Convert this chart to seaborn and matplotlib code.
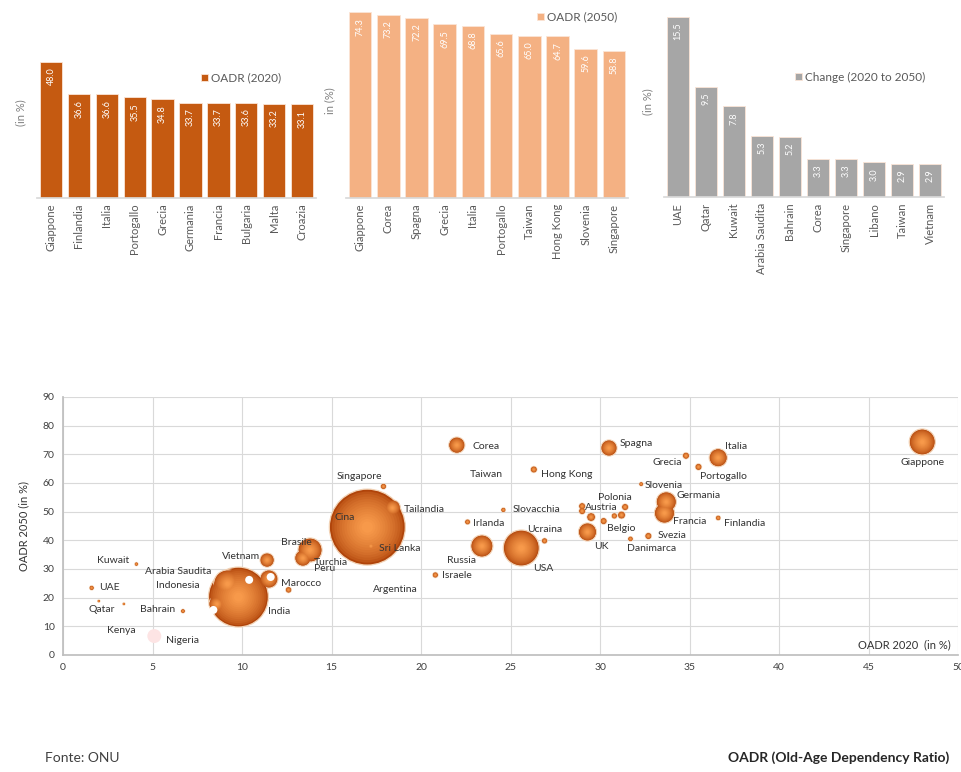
import seaborn as sns
from matplotlib import pyplot as plt
from matplotlib.colors import to_rgb
import pandas as pd
import numpy as np

# --- bar charts data ---
top2020_countries = ['Giappone', 'Finlandia', 'Italia', 'Portogallo', 'Grecia',
                     'Germania', 'Francia', 'Bulgaria', 'Malta', 'Croazia']
top2020_values = [48.0, 36.6, 36.6, 35.5, 34.8, 33.7, 33.7, 33.6, 33.2, 33.1]

top2050_countries = ['Giappone', 'Corea', 'Spagna', 'Grecia', 'Italia',
                     'Portogallo', 'Taiwan', 'Hong Kong', 'Slovenia', 'Singapore']
top2050_values = [74.3, 73.2, 72.2, 69.5, 68.8, 65.6, 65.0, 64.7, 59.6, 58.8]

change_countries = ['UAE', 'Qatar', 'Kuwait', 'Arabia Saudita', 'Bahrain',
                    'Corea', 'Singapore', 'Libano', 'Taiwan', 'Vietnam']
change_values = [15.5, 9.5, 7.8, 5.3, 5.2, 3.3, 3.3, 3.0, 2.9, 2.9]

# --- bubble chart data (OADR 2020, OADR 2050, bubble size) ---
bubble_names = ['Giappone', 'Italia', 'Grecia', 'Portogallo', 'Spagna', 'Corea',
                'Hong Kong', 'Singapore', 'Slovenia', 'Polonia', 'Austria', '',
                'Germania', 'Francia', 'Finlandia', 'Belgio', '', '', '',
                'Danimarca', 'Svezia', 'UK', 'Tailandia', 'Cina', 'Sri Lanka',
                'Slovacchia', 'Irlanda', 'Ucraina', 'Russia', 'USA', 'Israele',
                'Brasile', 'Turchia', 'Vietnam', 'Marocco', '', 'India',
                'Indonesia', '', 'Kuwait', 'UAE', 'Qatar', 'Arabia Saudita',
                'Bahrain', 'Nigeria', '', '', '']
oadr_2020 = [48.0, 36.6, 34.8, 35.5, 30.5, 22.0, 26.3, 17.9, 32.3, 31.4, 29.0, 29.0,
             33.7, 33.6, 36.6, 30.2, 29.5, 30.8, 31.2, 31.7, 32.7, 29.3, 18.4, 17.0,
             17.2, 24.6, 22.6, 26.9, 23.4, 25.6, 20.8, 13.8, 13.4, 11.4, 12.6, 11.5,
             9.8, 9.2, 8.6, 4.1, 1.6, 2.0, 3.4, 6.7, 5.1, 10.4, 11.6, 8.4]
oadr_2050 = [74.3, 68.8, 69.5, 65.6, 72.2, 73.2, 64.7, 58.8, 59.6, 51.6, 50.2, 51.9,
             53.4, 49.5, 47.8, 46.7, 48.1, 48.5, 48.8, 40.5, 41.5, 42.9, 51.3, 44.6,
             38.0, 50.6, 46.4, 39.8, 38.0, 37.3, 27.9, 36.6, 33.8, 33.1, 22.7, 26.5,
             20.2, 24.8, 17.8, 31.7, 23.4, 18.8, 17.8, 15.3, 6.6, 26.2, 27.2, 15.7]
bubble_size = [20.1, 9.6, 1.1, 1.1, 7.6, 7.6, 1.1, 0.8, 0.4, 1.1, 1.1, 1.1,
               11.9, 11.9, 0.6, 1.1, 1.9, 0.8, 1.5, 0.6, 1.1, 9.6, 7.6, 172,
               1.9, 0.5, 0.7, 0.8, 14.4, 38.6, 0.8, 17.2, 7.6, 5.8, 0.9, 9.6,
               107, 23.3, 7.6, 0.3, 0.5, 0.15, 0.15, 0.4, 5.8, 1.9, 1.9, 1.9]
bubble_tone = ['o'] * 44 + ['pink', 'white', 'white', 'white']

# label positions (data coords) for the bubble chart
label_pos = {
    'Giappone': (48.0, 67.0, 'center'), 'Italia': (37.0, 72.6, 'left'),
    'Grecia': (34.6, 67.0, 'right'), 'Portogallo': (35.6, 62.4, 'left'),
    'Spagna': (31.1, 73.9, 'left'), 'Corea': (22.9, 72.6, 'left'),
    'Taiwan': (22.7, 63.1, 'left'), 'Hong Kong': (26.7, 62.8, 'left'),
    'Singapore': (15.3, 62.1, 'left'), 'Slovenia': (32.5, 59.0, 'left'),
    'Polonia': (29.9, 55.1, 'left'), 'Germania': (34.25, 55.5, 'left'),
    'Austria': (29.16, 51.3, 'left'), 'Tailandia': (19.05, 50.6, 'left'),
    'Slovacchia': (25.1, 50.6, 'left'), 'Cina': (15.14, 47.8, 'left'),
    'Irlanda': (22.9, 46.0, 'left'), 'Francia': (34.1, 46.7, 'left'),
    'Finlandia': (36.9, 46.0, 'left'), 'Belgio': (30.4, 44.0, 'left'),
    'Ucraina': (25.9, 43.6, 'left'), 'Svezia': (33.2, 41.5, 'left'),
    'Brasile': (12.2, 39.4, 'left'), 'Sri Lanka': (17.65, 37.3, 'left'),
    'UK': (29.66, 38.0, 'left'), 'Danimarca': (31.5, 37.3, 'left'),
    'Vietnam': (8.9, 34.5, 'left'), 'Kuwait': (1.9, 33.1, 'left'),
    'Turchia': (14.0, 32.1, 'left'), 'Russia': (21.45, 32.8, 'left'),
    'Peru': (14.0, 30.0, 'left'), 'USA': (26.26, 30.0, 'left'),
    'Arabia Saudita': (4.58, 28.95, 'left'), 'Israele': (21.17, 27.6, 'left'),
    'UAE': (2.0, 23.7, 'left'), 'Indonesia': (5.2, 24.4, 'left'),
    'Marocco': (12.2, 25.1, 'left'), 'Argentina': (17.3, 23.0, 'left'),
    'Qatar': (1.4, 16.0, 'left'), 'Bahrain': (4.3, 16.0, 'left'),
    'India': (11.45, 15.0, 'left'), 'Kenya': (2.46, 8.4, 'left'),
    'Nigeria': (5.75, 5.2, 'left'),
}

sns.set_theme(style='white')
plt.rcParams['font.family'] = ['Lato', 'DejaVu Sans']

fig = plt.figure(figsize=(9.62, 7.72), dpi=100)

bar_specs = [
    (top2020_countries, top2020_values, '#C55A11', 'OADR (2020)', '(in %)',
     [0.0385, 0.7435, 0.290, 0.2202], 60, (0.57, 0.706)),
    (top2050_countries, top2050_values, '#F4B183', 'OADR (2050)', 'in (%)',
     [0.3597, 0.7435, 0.2931, 0.2526], 78, (0.66, 0.928)),
    (change_countries, change_values, '#A6A6A6', 'Change (2020 to 2050)', '(in %)',
     [0.6902, 0.7445, 0.2911, 0.2487], 16.5, (0.45, 0.625)),
]

for names, vals, col, leg, ylab, rect, ymax, legpos in bar_specs:
    ax = fig.add_axes(rect)
    df = pd.DataFrame({'country': names, 'value': vals})
    sns.barplot(data=df, x='country', y='value', color=col, saturation=1,
                width=0.8, edgecolor='#fbe5d6', linewidth=0.6, label=leg, ax=ax)
    for i, v in enumerate(vals):
        ax.annotate(f'{v:.1f}', (i, v), xytext=(0, -4), textcoords='offset points',
                    rotation=90, ha='center', va='top', color='white', fontsize=6.5)
    ax.set_ylim(0, ymax)
    ax.set_xlim(-0.5, len(vals) - 0.5)
    ax.set_yticks([])
    ax.set_xlabel('')
    ax.set_ylabel(ylab, color='#7f7f7f', fontsize=8, labelpad=8)
    ax.tick_params(axis='x', rotation=90, labelsize=8, labelcolor='#595959', length=0, pad=4)
    for s in ['top', 'right', 'left']:
        ax.spines[s].set_visible(False)
    ax.spines['bottom'].set_color('#d9d9d9')
    ax.legend(loc='center left', bbox_to_anchor=legpos, frameon=False, fontsize=8.5,
              handlelength=0.6, handleheight=0.6, handletextpad=0.3,
              labelcolor='#595959', borderaxespad=0)

# --- bubble chart ---
ax = fig.add_axes([0.0655, 0.1516, 0.9304, 0.3342])
bub = pd.DataFrame({'name': bubble_names, 'x': oadr_2020, 'y': oadr_2050,
                    'size': bubble_size, 'tone': bubble_tone})
smax = 2993
orange = bub[bub['tone'] == 'o']
# stacked circles of shrinking size give a shaded, glossy look
dark, light = np.array(to_rgb('#B0440A')), np.array(to_rgb('#F7994A'))
fracs = np.linspace(1.0, 0.15, 14)
for k, f in enumerate(fracs):
    t = (1 - f) / (1 - fracs[-1])
    c = tuple(dark + (light - dark) * t ** 0.6)
    sns.scatterplot(data=orange, x='x', y='y', size='size', sizes=(0, smax * f * f),
                    size_norm=(0, 172), color=c, alpha=1,
                    edgecolor='#F2D3B6' if k == 0 else 'none',
                    linewidth=0.9 if k == 0 else 0, legend=False, ax=ax, zorder=3 + k)
pink = bub[bub['tone'] == 'pink']
sns.scatterplot(data=pink, x='x', y='y', size='size', sizes=(0, smax), size_norm=(0, 172),
                color='#FDE4E4', edgecolor='none', legend=False, ax=ax, zorder=3)
white = bub[bub['tone'] == 'white']
sns.scatterplot(data=white, x='x', y='y', size='size', sizes=(0, smax), size_norm=(0, 172),
                color='white', edgecolor='none', legend=False, ax=ax, zorder=20)

for name, (lx, ly, ha) in label_pos.items():
    ax.text(lx, ly, name, ha=ha, va='center', fontsize=7.5, color='#333333', zorder=22)

ax.set_xlim(0, 50)
ax.set_ylim(0, 90)
ax.set_xticks(np.arange(0, 51, 5))
ax.set_yticks(np.arange(0, 91, 10))
ax.grid(True, color='#d9d9d9', linewidth=0.8)
ax.set_axisbelow(True)
ax.tick_params(labelsize=7.5, labelcolor='#404040', length=0, pad=6)
for s in ['top', 'right']:
    ax.spines[s].set_visible(False)
for s in ['left', 'bottom']:
    ax.spines[s].set_color('#bfbfbf')
ax.set_xlabel('')
ax.set_ylabel('OADR 2050 (in %)', fontsize=8, color='#333333', labelpad=10)
ax.text(49.6, 3.5, 'OADR 2020  (in %)', ha='right', va='center', fontsize=8,
        color='#333333')

fig.text(0.047, 0.010, 'Fonte: ONU', fontsize=10, color='#404040', ha='left', va='bottom')
fig.text(0.987, 0.010, 'OADR (Old-Age Dependency Ratio)', fontsize=10, fontweight='bold',
         color='#262626', ha='right', va='bottom')

fig.savefig('out.png', dpi=100)
